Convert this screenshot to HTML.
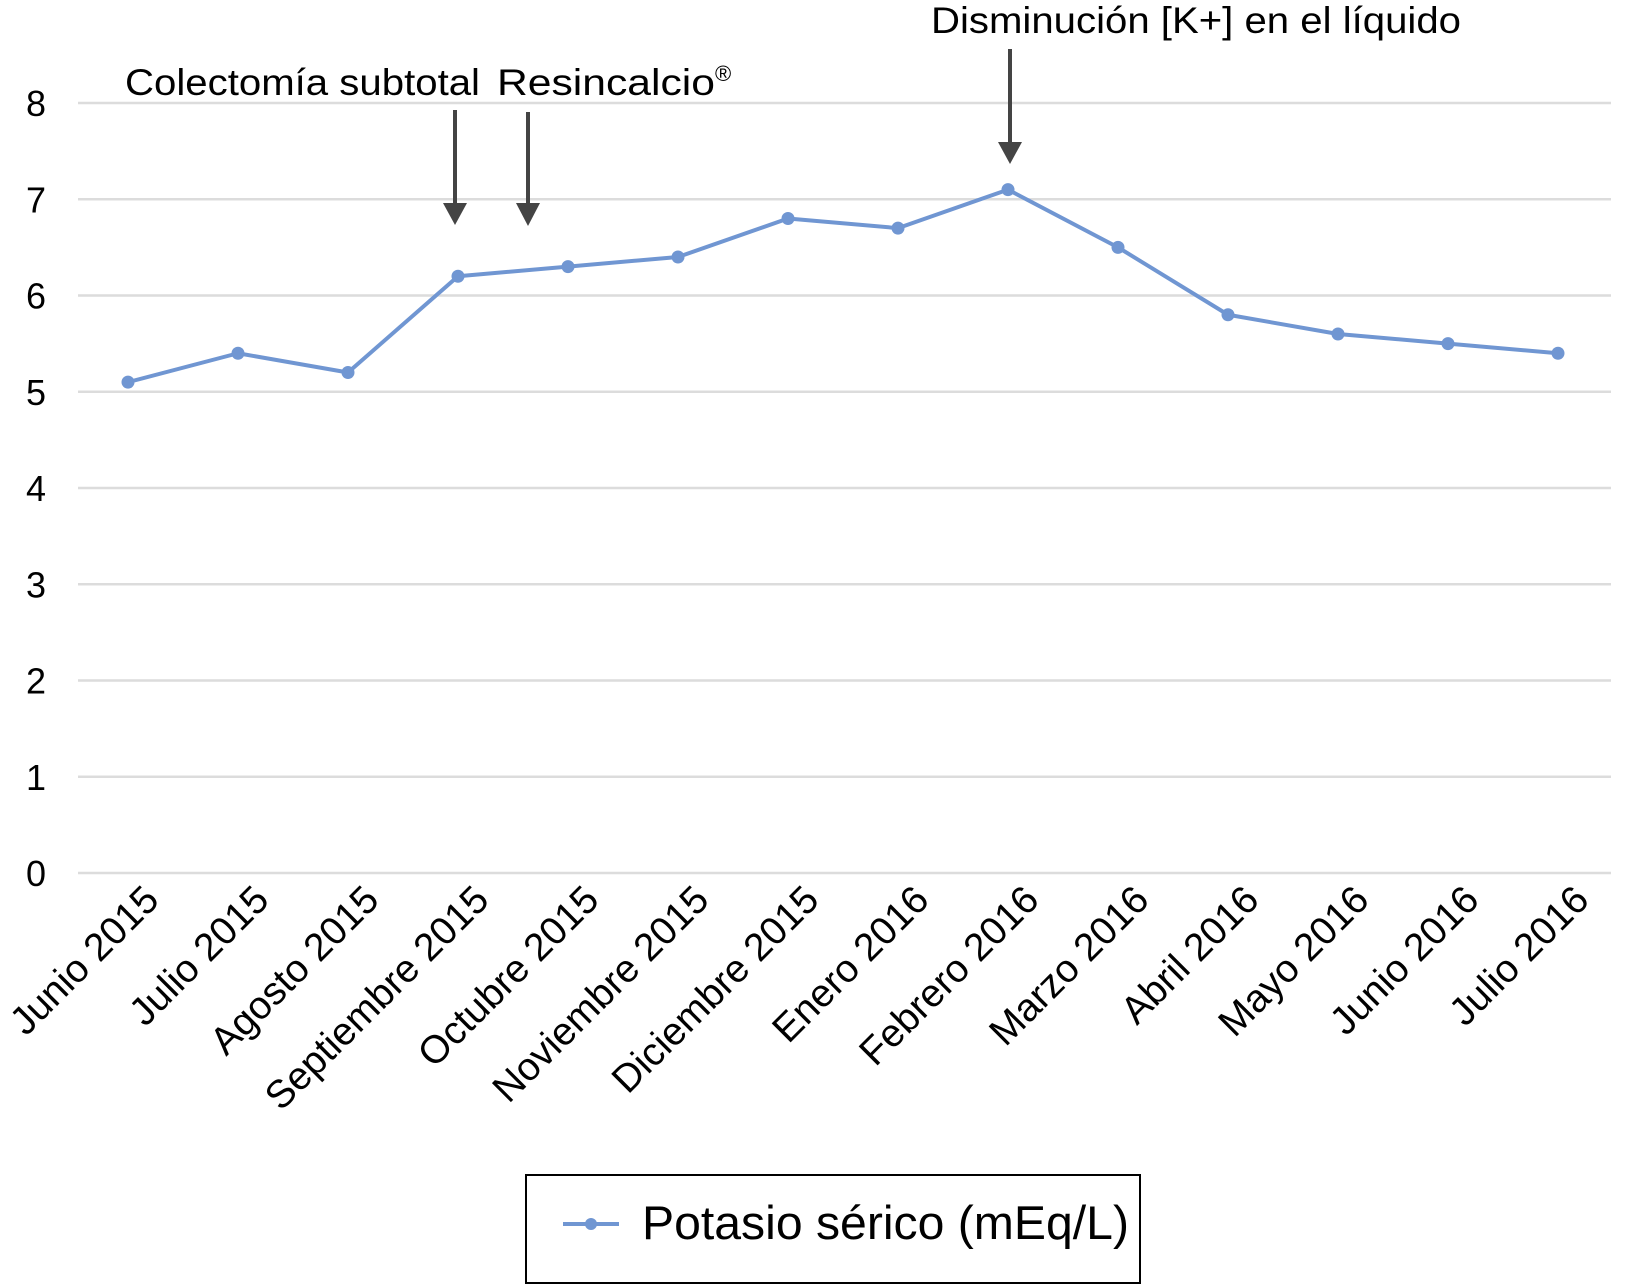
<!DOCTYPE html>
<html><head><meta charset="utf-8"><style>
html,body{margin:0;padding:0;background:#fff;}
svg{display:block;font-family:"Liberation Sans",sans-serif;}
</style></head><body>
<svg id="chart" width="1625" height="1286" viewBox="0 0 1625 1286" xmlns="http://www.w3.org/2000/svg">
<g id="grid"></g>
<g id="yticks"></g>
<g id="xticks"></g>
<g id="series"></g>
<g fill="#000" font-size="37">
<text x="125" y="95" textLength="355" lengthAdjust="spacingAndGlyphs">Colectomía subtotal</text>
<text x="497" y="95"><tspan textLength="218" lengthAdjust="spacingAndGlyphs">Resincalcio</tspan><tspan font-size="22" dy="-14">®</tspan></text>
<text x="931" y="33" textLength="530" lengthAdjust="spacingAndGlyphs">Disminución [K+] en el líquido</text>
<g fill="#444" stroke="none">
<rect x="453" y="110" width="4" height="96"/>
<polygon points="443,203 467,203 455,225"/>
<rect x="526" y="112" width="4" height="94"/>
<polygon points="516,203 540,203 528,226"/>
<rect x="1008" y="49" width="4" height="96"/>
<polygon points="998,142 1022,142 1010,164"/>
</g>
</g>
<g>
<rect x="526" y="1175" width="614" height="108" fill="#fff" stroke="#000" stroke-width="2"/>
<line x1="563" y1="1224" x2="619" y2="1224" stroke="#7096d2" stroke-width="4"/>
<circle cx="591" cy="1224" r="6" fill="#7096d2"/>
<text x="642" y="1239" font-size="47" textLength="487" lengthAdjust="spacingAndGlyphs">Potasio sérico (mEq/L)</text>
</g>
</svg>
<script>
const categories=["Junio 2015","Julio 2015","Agosto 2015","Septiembre 2015","Octubre 2015","Noviembre 2015","Diciembre 2015","Enero 2016","Febrero 2016","Marzo 2016","Abril 2016","Mayo 2016","Junio 2016","Julio 2016"];
const values=[5.1,5.4,5.2,6.2,6.3,6.4,6.8,6.7,7.1,6.5,5.8,5.6,5.5,5.4];
const yTicks=[0,1,2,3,4,5,6,7,8];
const NS="http://www.w3.org/2000/svg";
function xScale(i){return 128+i*110;}
function yScale(v){return 873-v*96.25;}
function mk(tag,attrs,parent){const e=document.createElementNS(NS,tag);for(const k in attrs)e.setAttribute(k,attrs[k]);parent.appendChild(e);return e;}
const grid=document.getElementById('grid'),yt=document.getElementById('yticks'),xt=document.getElementById('xticks'),ser=document.getElementById('series');
yTicks.forEach(t=>{
 const l=mk('line',{x1:78,x2:1611,y1:yScale(t),y2:yScale(t),stroke:'#dcdcdc','stroke-width':2.5},grid);
 
 
 const tx=mk('text',{x:36,y:yScale(t)+13,'font-size':36,'text-anchor':'middle',fill:'#000'},yt);
 tx.textContent=t;
 
 
});
categories.forEach((c,i)=>{
 const x=xScale(i)+33,y=902;
 const tx=mk('text',{x:x,y:y,'font-size':39,'text-anchor':'end',fill:'#000',transform:`rotate(-45 ${x} ${y})`},xt);
 tx.textContent=c;
 
 
});
const pts=values.map((v,i)=>xScale(i)+','+yScale(v)).join(' ');
const pl=mk('polyline',{points:pts,fill:'none',stroke:'#7096d2','stroke-width':4,'stroke-linejoin':'round'},ser);


values.forEach((v,i)=>{
 const c=mk('circle',{cx:xScale(i),cy:yScale(v),r:6.5,fill:'#7096d2'},ser);
 
 
});
</script>
</body></html>
